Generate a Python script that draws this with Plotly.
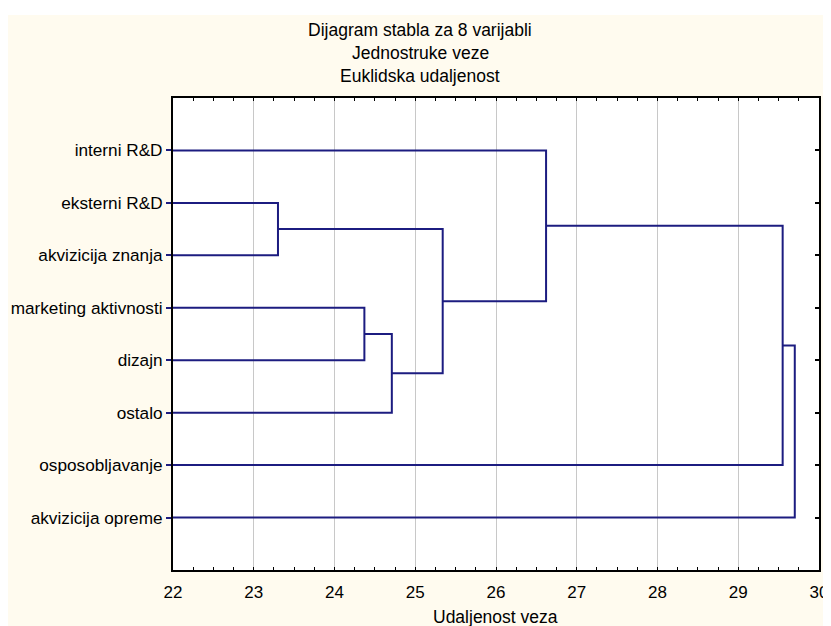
import plotly.graph_objects as go

# ---- data ----
leaves = ["interni R&D", "eksterni R&D", "akvizicija znanja", "marketing aktivnosti",
          "dizajn", "ostalo", "osposobljavanje", "akvizicija opreme"]
# merges: (child_a, child_b, linkage distance); new clusters numbered from len(leaves)
merge_a = [1, 3, 9, 8, 0, 12, 13]
merge_b = [2, 4, 5, 10, 11, 6, 7]
merge_h = [23.30, 24.37, 24.71, 25.34, 26.62, 29.55, 29.70]
x_ticks = [22, 23, 24, 25, 26, 27, 28, 29, 30]

title_lines = ["Dijagram stabla za 8 varijabli", "Jednostruke veze", "Euklidska udaljenost"]
x_title = "Udaljenost veza"

LINE = "#1c1c80"
FONT = "Liberation Sans, Arial, sans-serif"
BG = "#FFFBEF"

# ---- build dendrogram segments ----
base = x_ticks[0]
pos = {i: i + 1 for i in range(len(leaves))}
hgt = {i: base for i in range(len(leaves))}
xs, ys = [], []
for k, (a, b, h) in enumerate(zip(merge_a, merge_b, merge_h)):
    node = len(leaves) + k
    xs += [hgt[a], h, h, hgt[b], None]
    ys += [pos[a], pos[a], pos[b], pos[b], None]
    pos[node] = (pos[a] + pos[b]) / 2
    hgt[node] = h

fig = go.Figure()
fig.add_trace(go.Scatter(x=xs, y=ys, mode="lines", line=dict(color=LINE, width=2),
                         hoverinfo="skip", showlegend=False))
fig.add_trace(go.Scatter(x=[base], y=[1], yaxis="y2", mode="markers",
                         marker=dict(opacity=0), hoverinfo="skip", showlegend=False))

# page is offset by the 8px body margin
W, H = 823, 618
L, R, T, B = 165, 12, 90, 56
pw, ph = W - L - R, H - T - B

fig.update_layout(
    width=W, height=H,
    margin=dict(l=L, r=R, t=T, b=B, autoexpand=False),
    paper_bgcolor=BG, plot_bgcolor="white",
    font=dict(family=FONT, size=17, color="black"),
    xaxis=dict(range=[x_ticks[0], x_ticks[-1]], tickvals=x_ticks,
               showgrid=True, gridcolor="#c8c8c8", gridwidth=1,
               showline=True, linecolor="black", linewidth=2, mirror="ticks",
               ticks="inside", ticklen=3, tickcolor="black", tickwidth=1,
               minor=dict(dtick=0.25, ticks="inside", ticklen=3, tickcolor="black", showgrid=False),
               zeroline=False, ticklabelstandoff=6, automargin=False,
               tickfont=dict(size=17)),
    yaxis=dict(range=[9, 0], tickvals=list(range(1, len(leaves) + 1)), ticktext=leaves,
               showgrid=False, showline=True, linecolor="black", linewidth=2, mirror=True,
               ticks="outside", ticklen=5, tickcolor=LINE, tickwidth=2, zeroline=False,
               automargin=False, tickfont=dict(size=17.2)),
    yaxis2=dict(range=[9, 0], overlaying="y", side="right",
                tickvals=list(range(1, len(leaves) + 1)), showticklabels=False,
                showgrid=False, showline=False, ticks="inside", ticklen=4,
                tickcolor="black", tickwidth=2, zeroline=False, automargin=False),
)

# white strip at top edge
fig.add_shape(type="rect", xref="paper", yref="paper",
              x0=-L / pw - 0.05, x1=(W - L) / pw + 0.05,
              y0=1 + (T - 7) / ph, y1=1 + T / ph + 0.05,
              fillcolor="white", line_width=0, layer="above")

for t, yy in zip(title_lines, [22, 45, 68]):
    fig.add_annotation(text=t, xref="paper", yref="paper",
                       x=(412 - L) / pw, y=1 + (T - yy) / ph,
                       xanchor="center", yanchor="middle", showarrow=False,
                       font=dict(size=17.5, family=FONT))
fig.add_annotation(text=x_title, xref="paper", yref="paper",
                   x=(487 - L) / pw, y=-(609 - (H - B)) / ph,
                   xanchor="center", yanchor="middle", showarrow=False,
                   font=dict(size=17.5, family=FONT))

fig.write_html("out.html")
